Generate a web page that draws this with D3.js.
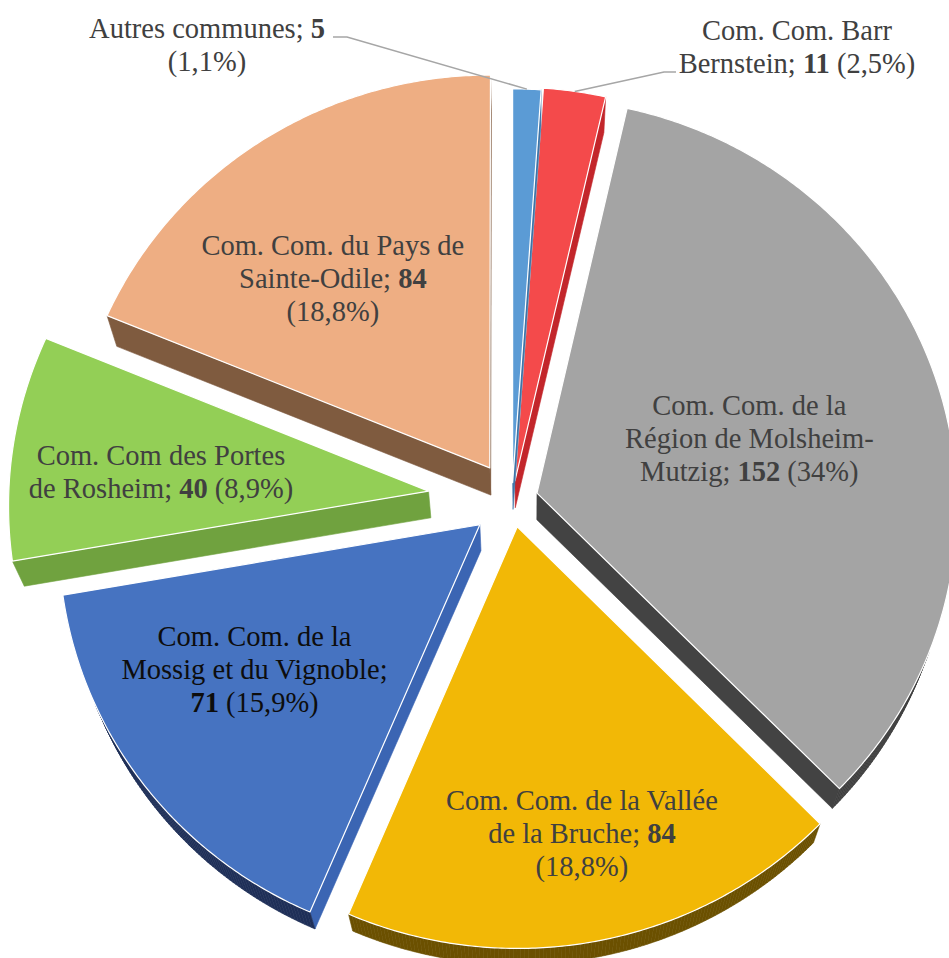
<!DOCTYPE html>
<html>
<head>
<meta charset="utf-8">
<script src="https://cdn.jsdelivr.net/npm/d3@7"></script>
<style>
  body { margin: 0; background: #fff; }
  svg text { font-family: "Liberation Serif", "DejaVu Serif", serif; font-size: 28.5px; }
</style>
</head>
<body>
<div id="chart"></div>
<script>
// data
var categories = [
  "Autres communes",
  "Com. Com. Barr Bernstein",
  "Com. Com. de la Région de Molsheim-Mutzig",
  "Com. Com. de la Vallée de la Bruche",
  "Com. Com. de la Mossig et du Vignoble",
  "Com. Com des Portes de Rosheim",
  "Com. Com. du Pays de Sainte-Odile"
];
var values = [5, 11, 152, 84, 71, 40, 84];
// label text, {v} = value (bold), {p} = percent
var labelLines = [
  ["Autres communes; {v}", "({p})"],
  ["Com. Com. Barr", "Bernstein; {v} ({p})"],
  ["Com. Com. de la", "Région de Molsheim-", "Mutzig; {v} ({p})"],
  ["Com. Com. de la Vallée", "de la Bruche; {v}", "({p})"],
  ["Com. Com. de la", "Mossig et du Vignoble;", "{v} ({p})"],
  ["Com. Com des Portes", "de Rosheim; {v} ({p})"],
  ["Com. Com. du Pays de", "Sainte-Odile; {v}", "({p})"]
];

// styles
var topColors   = ["#5B9BD5", "#F44A4B", "#A4A4A4", "#F2B806", "#4673C1", "#93CF56", "#EEAE83"];
var radialSide  = ["#3F75A8", "#C3262B", "#434343", "#9E7700", "#3B65B3", "#70A23F", "#7F5B3F"];
var arcSide     = ["#2E5A86", "#A01F23", "#3F3F3F", "#6B5000", "#1F2F58", "#557F2E", "#6A4A33"];
var textColors  = ["#404040", "#404040", "#404040", "#404040", "#0D0D0D", "#404040", "#404040"];
var explode     = [18, 20, 26, 28, 41, 84, 40];
// inside labels: [angle deg, radius] in pie plane; null = outside label
var labelPolar  = [null, null, [74.9, 247], [168.5, 342], [235.9, 307], [274.8, 353], [322, 296]];
var outside = [
  {x: 207, y: 45, leader: [[333, 37], [347, 37]]},
  {x: 797, y: 47, leader: [[676, 72], [664, 72]]}
];

var W = 949, H = 958;
var R = 420, cx = 512, cy = 500;
var u = 0.031, q = 0.969;          // mild perspective of the pie plane
var vp = [530, 1650], s = 0.023;   // depth goes toward vanishing point
var lineH = 33;

var total = d3.sum(values);
var pctFmt = function(v) {
  var p = Math.round(v / total * 1000) / 10;
  return String(p).replace(".", ",") + "%";
};

var svg = d3.select("#chart").append("svg")
  .attr("width", W).attr("height", H);

var pie = d3.pie().sort(null).value(function(d) { return d; })
  .startAngle(0).endAngle(2 * Math.PI);
var arcs = pie(values);

function P(X, Y) {
  var f = 1 / (1 + u * Y / R);
  return [cx + X * f, cy - q * Y * f];
}
function D(p) {
  return [vp[0] + (p[0] - vp[0]) * (1 - s), vp[1] + (p[1] - vp[1]) * (1 - s)];
}
var line = d3.line();

var slices = arcs.map(function(a, i) {
  var m = (a.startAngle + a.endAngle) / 2;
  var ex = explode[i] * Math.sin(m), ey = explode[i] * Math.cos(m);
  var apex = P(ex, ey);
  var n = Math.max(2, Math.ceil((a.endAngle - a.startAngle) / (Math.PI / 360)));
  var rim = d3.range(n + 1).map(function(k) {
    var t = a.startAngle + (a.endAngle - a.startAngle) * k / n;
    return P(ex + R * Math.sin(t), ey + R * Math.cos(t));
  });
  var inner = P(ex + R * 0.5 * Math.sin(m), ey + R * 0.5 * Math.cos(m));
  return {i: i, a: a, m: m, ex: ex, ey: ey, apex: apex, rim: rim, inner: inner};
});

function faceVisible(p1, p2, ref) {
  var dx = p2[0] - p1[0], dy = p2[1] - p1[1];
  var nx = dy, ny = -dx;
  var mx = (p1[0] + p2[0]) / 2, my = (p1[1] + p2[1]) / 2;
  if (nx * (ref[0] - mx) + ny * (ref[1] - my) > 0) { nx = -nx; ny = -ny; }
  var b = D([mx, my]);
  return nx * (b[0] - mx) + ny * (b[1] - my) > 0;
}

var order = slices.slice().sort(function(a, b) { return a.apex[1] - b.apex[1]; });

order.forEach(function(sl) {
  var g = svg.append("g");
  var i = sl.i;
  // radial faces
  [[sl.apex, sl.rim[0]], [sl.apex, sl.rim[sl.rim.length - 1]]].forEach(function(e) {
    if (faceVisible(e[0], e[1], sl.inner)) {
      g.append("path")
        .attr("d", line([e[0], e[1], D(e[1]), D(e[0])]) + "Z")
        .attr("fill", radialSide[i]).attr("stroke", radialSide[i]).attr("stroke-width", 0.6);
    }
  });
  // curved face
  for (var k = 0; k < sl.rim.length - 1; k++) {
    var p1 = sl.rim[k], p2 = sl.rim[k + 1];
    if (faceVisible(p1, p2, sl.apex)) {
      g.append("path")
        .attr("d", line([p1, p2, D(p2), D(p1)]) + "Z")
        .attr("fill", arcSide[i]).attr("stroke", arcSide[i]).attr("stroke-width", 0.6);
    }
  }
  // top face
  g.append("path")
    .attr("d", line([sl.apex].concat(sl.rim)) + "Z")
    .attr("fill", topColors[i])
    .attr("stroke", "#fff").attr("stroke-width", 1.2).attr("stroke-linejoin", "round");
});

// labels
function writeLabel(i, x, y) {
  var lines = labelLines[i];
  var t = svg.append("text").attr("text-anchor", "middle").attr("fill", textColors[i]);
  lines.forEach(function(str, k) {
    var ly = y + (k - (lines.length - 1) / 2) * lineH;
    var parts = str.split("{v}");
    var first = true;
    parts.forEach(function(part, j) {
      var txt = part.replace("{p}", pctFmt(values[i]));
      if (j > 0) {
        var b = t.append("tspan").attr("font-weight", "bold").text(values[i]);
        if (first) { b.attr("x", x).attr("y", ly).attr("dy", "0.35em"); first = false; }
      }
      if (txt.length) {
        var sp = t.append("tspan").text(txt);
        if (first) { sp.attr("x", x).attr("y", ly).attr("dy", "0.35em"); first = false; }
      }
    });
  });
}

slices.forEach(function(sl) {
  var i = sl.i;
  if (labelPolar[i]) {
    var ang = labelPolar[i][0] * Math.PI / 180, rho = labelPolar[i][1];
    var p = P(rho * Math.sin(ang), rho * Math.cos(ang));
    writeLabel(i, p[0], p[1]);
  } else {
    var o = outside[i];
    var end = P(sl.ex + R * Math.sin(sl.m), sl.ey + R * Math.cos(sl.m));
    svg.append("path")
      .attr("d", line(o.leader.concat([end])))
      .attr("fill", "none").attr("stroke", "#A6A6A6").attr("stroke-width", 1.5);
    writeLabel(i, o.x, o.y);
  }
});
</script>
</body>
</html>
